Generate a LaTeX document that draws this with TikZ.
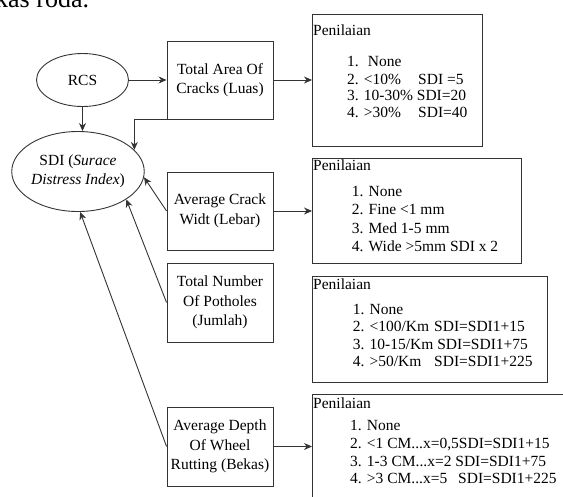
\documentclass[tikz,border=0pt]{standalone}
\usepackage{fontspec}
\setmainfont{LiberationSerif}[Extension=.ttf, UprightFont=*-Regular, ItalicFont=*-Italic, BoldFont=*-Bold, BoldItalicFont=*-BoldItalic]
\usetikzlibrary{shapes.geometric,arrows.meta,calc}
\definecolor{ln}{HTML}{333333}
\newcommand{\dfont}{\fontsize{15.5}{19.5}\selectfont}
\begin{document}
\begin{tikzpicture}[x=1pt,y=-1pt,
  box/.style={draw=ln, line width=0.9pt, rectangle, inner sep=0pt, align=center, font=\dfont, minimum width=106pt, minimum height=78pt},
  oval/.style={draw=ln, line width=0.9pt, ellipse, inner sep=0pt, align=center, font=\dfont},
  panel/.style={draw=ln, line width=0.9pt, rectangle, inner sep=0pt, anchor=north west},
  txt/.style={anchor=base west, inner sep=0pt, font=\dfont},
  conn/.style={draw=ln, line width=0.9pt, -{Stealth[length=8pt,width=7pt]}}]
\useasboundingbox (0,0) rectangle (563,496);
\clip (0,0) rectangle (563,496);

% fragment of body text
\node[anchor=base west, inner sep=0pt, font=\fontsize{26}{30}\selectfont] (frag) at (-5,7) {kas roda.};

% ovals
\node[oval, minimum width=92pt, minimum height=53pt] (rcs) at (82.5,80) {RCS};
\node[oval, minimum width=130pt, minimum height=80pt] (sdi) at (78,171.5) {SDI (\textit{Surace}\\\textit{Distress Index})};

% left boxes
\node[box] (ta) at (220,80) {Total Area Of\\Cracks (Luas)};
\node[box] (acw) at (220,211) {Average Crack\\Widt (Lebar)};
\node[box, minimum height=79pt] (tnp) at (220,302.5) {Total Number\\Of Potholes\\(Jumlah)};
\node[box, minimum height=79pt] (ad) at (220,446.5) {Average Depth\\Of Wheel\\Rutting (Bekas)};

% right panels
\node[panel, minimum width=170pt, minimum height=132pt] (b1) at (312,14) {};
\node[panel, minimum width=209pt, minimum height=105pt] (b2) at (312,158) {};
\node[panel, minimum width=235pt, minimum height=106pt] (b3) at (312,276) {};
\node[panel, minimum width=262pt, minimum height=106pt] (b4) at (312,394) {};

% panel 1 text
\node[txt] (b1h) at (313,35) {Penilaian};
\node[txt] (b1a) at (347,66.7) {1.\hspace{9pt}None};
\node[txt] (b1b) at (347,84) {2. <10\%};
\node[txt] (b1bs) at (418,84) {SDI =5};
\node[txt] (b1c) at (347,100.7) {3. 10-30\% SDI=20};
\node[txt] (b1d) at (347,117.7) {4. >30\%};
\node[txt] (b1ds) at (418,117.7) {SDI=40};

% panel 2 text
\node[txt] (b2h) at (313,170) {Penilaian};
\node[txt] (b2a) at (351.7,196) {1. None};
\node[txt] (b2b) at (351.7,214) {2. Fine <1 mm};
\node[txt] (b2c) at (351.7,233) {3. Med 1-5 mm};
\node[txt] (b2d) at (351.7,251.7) {4. Wide >5mm SDI x 2};

% panel 3 text
\node[txt] (b3h) at (313,289) {Penilaian};
\node[txt] (b3a) at (352.7,314) {1. None};
\node[txt] (b3b) at (352.7,331.7) {2. <100/Km};
\node[txt] (b3bs) at (434,331.7) {SDI=SDI1+15};
\node[txt] (b3c) at (352.7,349) {3. 10-15/Km SDI=SDI1+75};
\node[txt] (b3d) at (352.7,366.7) {4. >50/Km};
\node[txt] (b3ds) at (434,366.7) {SDI=SDI1+225};

% panel 4 text
\node[txt] (b4h) at (313,408) {Penilaian};
\node[txt] (b4a) at (350,430.7) {1. None};
\node[txt] (b4b) at (350,448) {2. <1 CM...x=0,5SDI=SDI1+15};
\node[txt] (b4c) at (350,466) {3. 1-3 CM...x=2 SDI=SDI1+75};
\node[txt] (b4d) at (350,483) {4. >3 CM...x=5};
\node[txt] (b4ds) at (458,483) {SDI=SDI1+225};

% connectors
\draw[conn] (rcs.east) -- (ta.west);
\draw[conn] (rcs.south) -- (rcs.south |- sdi.north);
\draw[conn] (ta.south west) -| (sdi.21);
\draw[conn] (acw.west) -- (sdi.-5);
\draw[conn] (tnp.west) -- (sdi.-30);
\draw[conn] (ad.west) -- (sdi.-87);
\draw[conn] (ta.east) -- (ta.east -| b1.west);
\draw[conn] (acw.east) -- (acw.east -| b2.west);
\draw[conn] (ad.east) -- (ad.east -| b4.west);
\end{tikzpicture}
\end{document}
